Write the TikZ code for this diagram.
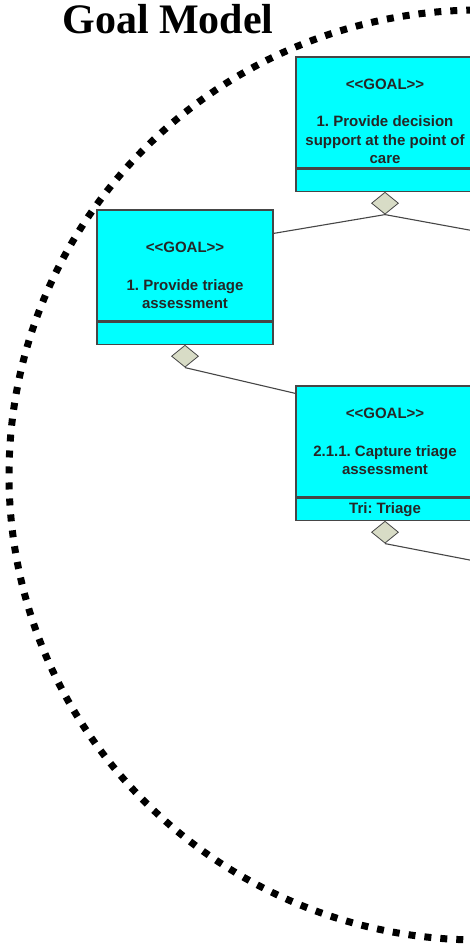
\documentclass[tikz,border=0pt]{standalone}
\usepackage{fontspec}
\setmainfont{Liberation Serif}
\newfontfamily\goalfont{Liberation Sans}[Ligatures=TeXOff]
\usetikzlibrary{positioning}
\usetikzlibrary{shapes.geometric}
\definecolor{cyan1}{RGB}{0, 255, 255}
\definecolor{gray1}{RGB}{216, 220, 198}
\definecolor{edge1}{RGB}{70, 70, 70}
\frenchspacing

\begin{document}
\begin{tikzpicture}[x=1pt, y=-1pt,
  goal/.style={rectangle, fill=cyan1, draw=edge1, line width=1.2pt, minimum width=178pt, minimum height=111pt, inner sep=0pt},
  foot/.style={rectangle, fill=cyan1, draw=edge1, line width=1.2pt, minimum width=178pt, minimum height=22pt, inner sep=0pt, font=\goalfont\bfseries\fontsize{15}{18}\selectfont, text=black!85},
  txt/.style={font=\goalfont\bfseries\fontsize{15}{18.5}\selectfont, align=center, inner sep=0pt, text=black!85},
  agg/.style={diamond, fill=gray1, draw=edge1, line width=0.8pt, minimum width=27pt, minimum height=22pt, inner sep=0pt},
  link/.style={draw=edge1, line width=1.1pt}]
  \useasboundingbox[fill=white] (0,0) rectangle (470,944);
  \clip (0,0) rectangle (470,944);

  \node[font=\bfseries\fontsize{42}{48}\selectfont, anchor=base] (title) at (168,34) {Goal Model};
  % dotted boundary
  \draw[line width=7pt, dash pattern=on 7pt off 9pt] (480,475) ellipse [x radius=471, y radius=465];

  % goals
  \node[goal] (boxA) at (385,112.5) {};
  \node[foot, below=0pt of boxA] (footA) {};
  \node[txt] at ([yshift=-28]boxA.north) {<<GOAL>>};
  \node[txt] at ([yshift=-83.5]boxA.north) {1. Provide decision\\support at the point of\\care};

  \node[goal, minimum width=176pt] (boxB) at (185,265.5) {};
  \node[foot, minimum width=176pt, below=0pt of boxB] (footB) {};
  \node[txt] at ([yshift=-38]boxB.north) {<<GOAL>>};
  \node[txt] at ([yshift=-84.5]boxB.north) {1. Provide triage\\assessment};

  \node[goal] (boxC) at (385,441.5) {};
  \node[foot, below=0pt of boxC] (footC) {Tri: Triage};
  \node[txt] at ([yshift=-28]boxC.north) {<<GOAL>>};
  \node[txt] at ([yshift=-74.5]boxC.north) {2.1.1. Capture triage\\assessment};

  \node[agg, below=0pt of footA] (dA) {};
  \node[agg, below=0pt of footB] (dB) {};
  \node[agg, below=0pt of footC] (dC) {};
  \coordinate (outA) at (480,232);
  \coordinate (outC) at (480,562);

  \draw[link] (dA.south) -- ([yshift=-24]boxB.north east);
  \draw[link] (dA.south) -- (outA);
  \draw[link] (dB.south) -- ([yshift=-8]boxC.north west);
  \draw[link] (dC.south) -- (outC);
\end{tikzpicture}
\end{document}
